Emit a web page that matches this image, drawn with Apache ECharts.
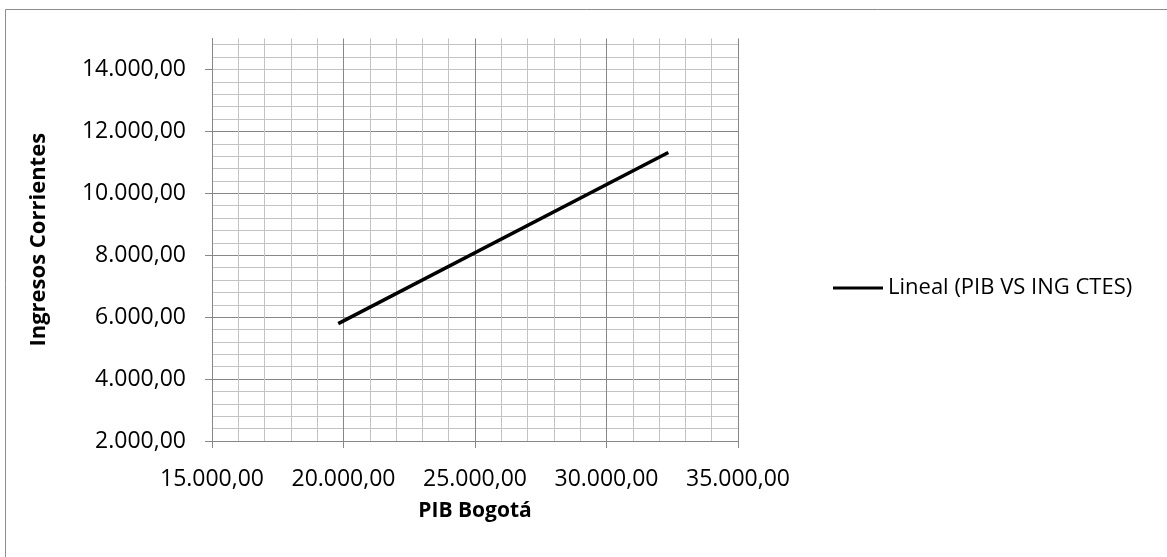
<!DOCTYPE html>
<html>
<head>
<meta charset="utf-8">
<script src="https://cdn.jsdelivr.net/npm/echarts@6/dist/echarts.min.js"></script>
<style>
html,body{margin:0;padding:0;background:#fff;}
#c{width:1167px;height:557px;}
</style>
</head>
<body>
<div id="c"></div>
<script>
const seriesName = 'Lineal (PIB VS ING CTES)';
const xName = 'PIB Bogotá';
const yName = 'Ingresos Corrientes';
const trendX = [19800, 32350];
const trendY = [5790, 11320];
const yTicks = [2000, 4000, 6000, 8000, 10000, 12000, 14000];

const FONT = 'Open Sans';
const fmt = v => {
  const s = Math.round(v).toString().replace(/\B(?=(\d{3})+(?!\d))/g, '.');
  return s + ',00';
};
const chart = echarts.init(document.getElementById('c'));
const MAJ = '#878787', MIN = '#c3c3c3';
chart.setOption({
  animation: false,
  backgroundColor: '#fff',
  textStyle: {fontFamily: FONT},
  graphic: [{
    type: 'rect', shape: {x: 5.5, y: 9.5, width: 1300, height: 700},
    style: {fill: 'none', stroke: '#8c8c8c', lineWidth: 1}, z: -10
  }],
  grid: {left: 212, right: 429, top: 38.5, bottom: 116, containLabel: false},
  legend: {
    left: 833, top: 277, padding: 0, itemWidth: 50, itemHeight: 3, icon: 'rect',
    data: [seriesName],
    itemStyle: {color: '#000'},
    textStyle: {fontFamily: FONT, fontSize: 22, color: '#000'}
  },
  xAxis: [{
    type: 'value', min: 15000, max: 35000, interval: 5000,
    name: xName, nameLocation: 'middle', nameGap: 60,
    nameTextStyle: {fontFamily: FONT, fontWeight: 'bold', fontSize: 21, color: '#000'},
    axisLine: {show: true, lineStyle: {color: MAJ, width: 1}},
    axisTick: {show: true, inside: false, length: 7, lineStyle: {color: MAJ}},
    axisLabel: {formatter: fmt, fontFamily: FONT, fontSize: 23, color: '#000', margin: 27},
    splitLine: {show: true, lineStyle: {color: MAJ, width: 1}},
    minorTick: {show: false, splitNumber: 5},
    minorSplitLine: {show: true, lineStyle: {color: MIN, width: 1}}
  }],
  yAxis: [{
    type: 'value', min: 2000, max: 15000, interval: 400,
    axisLine: {show: false}, axisTick: {show: false}, axisLabel: {show: false},
    splitLine: {show: true, showMaxLine: false, lineStyle: {color: MIN, width: 1}}
  }, {
    type: 'value', min: 2000, max: 15000, interval: 2000, position: 'left',
    name: yName, nameLocation: 'middle', nameGap: 162, nameRotate: 90,
    nameTextStyle: {fontFamily: FONT, fontWeight: 'bold', fontSize: 22, color: '#000'},
    axisLine: {show: true, lineStyle: {color: MAJ, width: 1}},
    axisTick: {show: true, length: 7, lineStyle: {color: MAJ}, customValues: yTicks},
    axisLabel: {formatter: fmt, fontFamily: FONT, fontSize: 23, color: '#000', margin: 26, customValues: yTicks},
    splitLine: {show: true, showMaxLine: false, lineStyle: {color: MAJ, width: 1}}
  }],
  series: [{
    name: seriesName, type: 'line', yAxisIndex: 1,
    data: trendX.map((x, i) => [x, trendY[i]]),
    symbol: 'none', showSymbol: false,
    lineStyle: {color: '#000', width: 3.5},
    itemStyle: {color: '#000'}, z: 5
  }]
});
</script>
</body>
</html>
